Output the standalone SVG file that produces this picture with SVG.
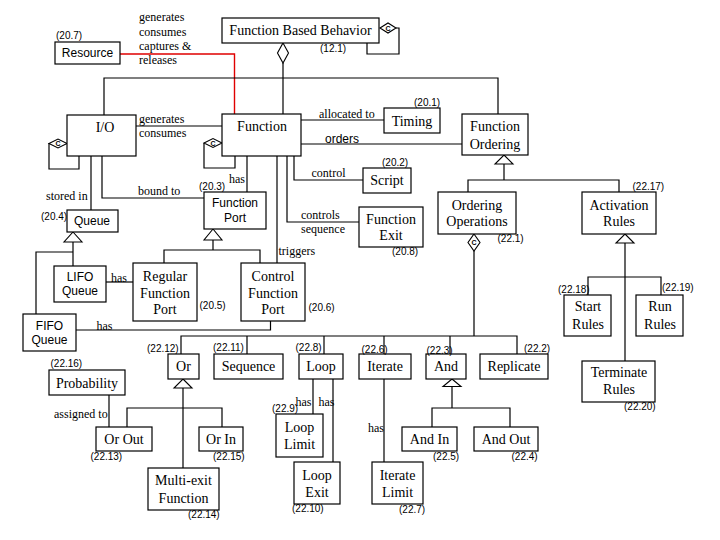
<svg xmlns="http://www.w3.org/2000/svg" width="720" height="540" viewBox="0 0 720 540">
<style>
.b{fill:#fff;stroke:#000;stroke-width:1.2}
.l{fill:none;stroke:#000;stroke-width:1.2}
.r{fill:none;stroke:#e00000;stroke-width:1.4}
.h{fill:#fff;stroke:#000;stroke-width:1.1}
.t{font-family:"Liberation Serif",serif;font-size:14px;text-anchor:middle}
.s{font-family:"Liberation Sans",sans-serif;font-size:12px;text-anchor:middle}
.a{font-family:"Liberation Serif",serif;font-size:12px}
.as{font-family:"Liberation Sans",sans-serif;font-size:12px}
.n{font-family:"Liberation Sans",sans-serif;font-size:10px}
.c{font-family:"Liberation Sans",sans-serif;font-size:7px;font-weight:bold;text-anchor:middle}
</style>
<rect width="720" height="540" fill="#fff"/>
<g id="connectors">
<path class="r" d="M120,54 H234.5 V114"/>
<path class="l" d="M283,63 V114"/>
<path class="l" d="M104,115 V78 H498 V114"/>
<path class="l" d="M367,43 V54 H399 V28 H396"/>
<path class="l" d="M136,126 H222"/>
<path class="l" d="M49,143 V169 H79 V156"/>
<path class="l" d="M204,143 V168 H235 V156"/>
<path class="l" d="M91,156 V210"/>
<path class="l" d="M102,156 V198 H204"/>
<path class="l" d="M247,156 V192"/>
<path class="l" d="M277,156 V263"/>
<path class="l" d="M287,156 V222 H359"/>
<path class="l" d="M294,156 V180 H363"/>
<path class="l" d="M301,120 H384"/>
<path class="l" d="M301,144 H462"/>
<path class="l" d="M73,242 V266"/>
<path class="l" d="M73,252 H36 V314"/>
<path class="l" d="M106,282 H133"/>
<path class="l" d="M213,240 V250 M164,263 V250 H260 V263"/>
<path class="l" d="M76,330 H270.5 V321"/>
<path class="l" d="M504,164 V180 M468,192 V180 H619 V192"/>
<path class="l" d="M625,243 V361 M588,295 V277 H661 V295"/>
<path class="l" d="M474,251 V336 M181,354 V336 H517 V354 M247,336 V354 M324,336 V354 M384,336 V354 M450,336 V354"/>
<path class="l" d="M183,388 V468 M127,427 V408 H222 V427"/>
<path class="l" d="M109,395 V427"/>
<path class="l" d="M313,379 V414 M333,379 V462"/>
<path class="l" d="M384,379 V462"/>
<path class="l" d="M452,386 V408 M432,427 V408 H510 V427"/>
<polygon class="h" points="283,43 288.5,53 283,63 277.5,53"/>
<polygon class="h" points="380,28 388,23 396,28 388,33"/>
<text class="c" x="388" y="30.5">C</text>
<polygon class="h" points="49,143.5 58,139 67,143.5 58,148"/>
<text class="c" x="58" y="146">C</text>
<polygon class="h" points="204,143 213,138.5 222,143 213,147.5"/>
<text class="c" x="213" y="145.5">C</text>
<polygon class="h" points="474,234 480,242.5 474,251 468,242.5"/>
<text class="c" x="474" y="245">C</text>
<polygon class="h" points="73,232 82,242 64,242"/>
<polygon class="h" points="213,229 222,240 204,240"/>
<polygon class="h" points="504,155 513,164 495,164"/>
<polygon class="h" points="625,234 634,243 616,243"/>
<polygon class="h" points="183,379 192,388 174,388"/>
<polygon class="h" points="452,379 461,386.5 443,386.5"/>
<text class="a" x="139" y="21">generates</text>
<text class="a" x="139" y="35.5">consumes</text>
<text class="a" x="139" y="50">captures &amp;</text>
<text class="a" x="139" y="64">releases</text>
<text class="a" x="139" y="123">generates</text>
<text class="a" x="139" y="137">consumes</text>
<text class="a" x="319" y="117.5">allocated to</text>
<text class="as" x="325" y="143">orders</text>
<text class="a" x="311.5" y="177">control</text>
<text class="a" x="301" y="219">controls</text>
<text class="a" x="301" y="233">sequence</text>
<text class="a" x="229" y="183">has</text>
<text class="a" x="138" y="195">bound to</text>
<text class="a" x="46" y="200">stored in</text>
<text class="a" x="111" y="282">has</text>
<text class="a" x="278.5" y="255">triggers</text>
<text class="a" x="96.5" y="330">has</text>
<text class="a" x="54" y="417.5">assigned to</text>
<text class="a" x="295.5" y="405.5">has</text>
<text class="a" x="318.5" y="405.5">has</text>
<text class="a" x="368" y="431.5">has</text>
</g>
<g id="resource"><rect class="b" x="55" y="42" width="65" height="22"/><text class="s" x="87.5" y="57">Resource</text><text class="n" x="56" y="39">(20.7)</text></g>
<g id="fbb"><rect class="b" x="222" y="18" width="157" height="25"/><text class="t" x="300.5" y="35">Function Based Behavior</text><text class="n" x="320" y="51.5">(12.1)</text></g>
<g id="io"><rect class="b" x="67" y="115" width="69" height="41"/><text class="t" x="105" y="132">I/O</text></g>
<g id="function"><rect class="b" x="222" y="114" width="79" height="42"/><text class="t" x="262" y="131">Function</text></g>
<g id="timing"><rect class="b" x="384" y="108" width="56" height="25"/><text class="t" x="412" y="125.5">Timing</text><text class="n" x="414" y="106">(20.1)</text></g>
<g id="fordering"><rect class="b" x="462" y="114" width="66" height="41"/><text class="t" x="495" y="131">Function</text><text class="t" x="495" y="148.5">Ordering</text></g>
<g id="script"><rect class="b" x="363" y="168" width="48" height="25"/><text class="t" x="387" y="185">Script</text><text class="n" x="382" y="165.5">(20.2)</text></g>
<g id="fexit"><rect class="b" x="359" y="207" width="64" height="40"/><text class="t" x="391" y="223.5">Function</text><text class="t" x="391" y="240">Exit</text><text class="n" x="392" y="255">(20.8)</text></g>
<g id="fport"><rect class="b" x="204" y="192" width="62" height="37"/><text class="s" x="235" y="207">Function</text><text class="s" x="235" y="221.5">Port</text><text class="n" x="199" y="190">(20.3)</text></g>
<g id="queue"><rect class="b" x="67" y="210" width="51" height="22"/><text class="s" x="92" y="225">Queue</text><text class="n" x="41" y="219.5">(20.4)</text></g>
<g id="lifo"><rect class="b" x="54" y="266" width="52" height="36"/><text class="s" x="80" y="281">LIFO</text><text class="s" x="80" y="295">Queue</text></g>
<g id="fifo"><rect class="b" x="23" y="314" width="53" height="37"/><text class="s" x="49.5" y="329.5">FIFO</text><text class="s" x="49.5" y="343.5">Queue</text></g>
<g id="rfport"><rect class="b" x="133" y="263" width="64" height="58"/><text class="t" x="165" y="281">Regular</text><text class="t" x="165" y="297.5">Function</text><text class="t" x="165" y="314">Port</text><text class="n" x="199.5" y="308.5">(20.5)</text></g>
<g id="cfport"><rect class="b" x="241" y="263" width="64" height="58"/><text class="t" x="273" y="281">Control</text><text class="t" x="273" y="297.5">Function</text><text class="t" x="273" y="314">Port</text><text class="n" x="308.5" y="311">(20.6)</text></g>
<g id="oops"><rect class="b" x="438" y="192" width="78" height="42"/><text class="t" x="477" y="209.5">Ordering</text><text class="t" x="477" y="226">Operations</text><text class="n" x="497.5" y="242">(22.1)</text></g>
<g id="arules"><rect class="b" x="582" y="192" width="74" height="42"/><text class="t" x="619" y="209.5">Activation</text><text class="t" x="619" y="226">Rules</text><text class="n" x="632.5" y="190">(22.17)</text></g>
<g id="srules"><rect class="b" x="564" y="295" width="47" height="41"/><text class="t" x="588" y="311">Start</text><text class="t" x="588" y="328.5">Rules</text><text class="n" x="558" y="292.5">(22.18)</text></g>
<g id="rrules"><rect class="b" x="636" y="295" width="47" height="41"/><text class="t" x="660" y="311">Run</text><text class="t" x="660" y="328.5">Rules</text><text class="n" x="662" y="291">(22.19)</text></g>
<g id="trules"><rect class="b" x="582" y="361" width="73" height="41"/><text class="t" x="619" y="377">Terminate</text><text class="t" x="619" y="394">Rules</text><text class="n" x="624" y="410">(22.20)</text></g>
<g id="or"><rect class="b" x="168" y="354" width="31" height="25"/><text class="t" x="183.5" y="371">Or</text><text class="n" x="147" y="352">(22.12)</text></g>
<g id="sequence"><rect class="b" x="214" y="354" width="69" height="25"/><text class="t" x="248.5" y="371">Sequence</text><text class="n" x="213" y="351">(22.11)</text></g>
<g id="loop"><rect class="b" x="299" y="354" width="44" height="25"/><text class="t" x="321" y="371">Loop</text><text class="n" x="295.5" y="351">(22.8)</text></g>
<g id="iterate"><rect class="b" x="359" y="354" width="52" height="25"/><text class="t" x="385" y="371">Iterate</text><text class="n" x="361.5" y="353">(22.6)</text></g>
<g id="and"><rect class="b" x="426" y="354" width="40" height="25"/><text class="t" x="446" y="371">And</text><text class="n" x="426.5" y="354">(22.3)</text></g>
<g id="replicate"><rect class="b" x="480" y="354" width="68" height="25"/><text class="t" x="514" y="371">Replicate</text><text class="n" x="524" y="352">(22.2)</text></g>
<g id="probability"><rect class="b" x="49" y="370" width="76" height="25"/><text class="t" x="87" y="387.5">Probability</text><text class="n" x="50.5" y="367">(22.16)</text></g>
<g id="orout"><rect class="b" x="96" y="427" width="56" height="24"/><text class="t" x="124" y="443.5">Or Out</text><text class="n" x="90.5" y="459.5">(22.13)</text></g>
<g id="orin"><rect class="b" x="199" y="427" width="44" height="24"/><text class="t" x="221" y="443.5">Or In</text><text class="n" x="213" y="459.5">(22.15)</text></g>
<g id="multiexit"><rect class="b" x="148" y="468" width="71" height="42"/><text class="t" x="183.5" y="485">Multi-exit</text><text class="t" x="183.5" y="502.5">Function</text><text class="n" x="188" y="518">(22.14)</text></g>
<g id="looplimit"><rect class="b" x="276" y="414" width="47" height="43"/><text class="t" x="299.5" y="432">Loop</text><text class="t" x="299.5" y="448.5">Limit</text><text class="n" x="272" y="412">(22.9)</text></g>
<g id="loopexit"><rect class="b" x="294" y="462" width="46" height="42"/><text class="t" x="317" y="480">Loop</text><text class="t" x="317" y="496.5">Exit</text><text class="n" x="292" y="512">(22.10)</text></g>
<g id="iteratelimit"><rect class="b" x="372" y="462" width="51" height="42"/><text class="t" x="397.5" y="480">Iterate</text><text class="t" x="397.5" y="496.5">Limit</text><text class="n" x="399" y="512.5">(22.7)</text></g>
<g id="andin"><rect class="b" x="402" y="427" width="55" height="24"/><text class="t" x="429.5" y="443.5">And In</text><text class="n" x="433" y="459.5">(22.5)</text></g>
<g id="andout"><rect class="b" x="474" y="427" width="64" height="24"/><text class="t" x="506" y="443.5">And Out</text><text class="n" x="511.5" y="460">(22.4)</text></g>
</svg>
